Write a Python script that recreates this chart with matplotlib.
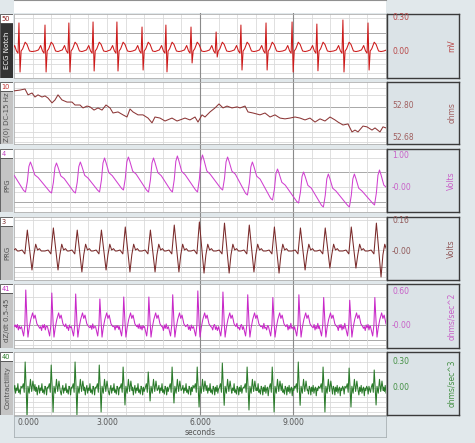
import numpy as np
import matplotlib
matplotlib.use("Agg")
import matplotlib.pyplot as plt
from matplotlib.patches import Rectangle
from matplotlib.lines import Line2D

plt.rcParams['font.family'] = ['DejaVu Sans']

# ---------------- data ----------------
# R-peak times (s), incl. one beat before and after the visible window
beat_t = [-0.61, 0.16, 1.00, 1.77, 2.55, 3.32, 4.13, 4.90, 5.71, 6.52,
          7.32, 8.13, 8.97, 9.77, 10.61, 11.42, 12.23]

# ECG Notch (mV)
ecg_r = [0.24, 0.255, 0.236, 0.255, 0.264, 0.264, 0.218, 0.236, 0.218, 0.173,
         0.236, 0.255, 0.264, 0.245, 0.282, 0.255, 0.25]
ecg_s = [-0.19, -0.191, -0.191, -0.191, -0.182, -0.182, -0.173, -0.19, -0.109,
         -0.055, -0.173, -0.173, -0.191, -0.18, -0.191, -0.173, -0.18]
ecg_off = [-0.30, -0.21, -0.14, -0.08, -0.03, 0.0, 0.035, 0.07, 0.12, 0.20, 0.26, 0.34, 0.42]
ecg_shape = [0.0, 0.01, 0.05, 0.0, -0.02, None, None, 0.0, 0.02, 0.08, 0.06, 0.0, -0.005]

# Z(0) (ohms)
z0_t = [0.000, 0.194, 0.355, 0.452, 0.581, 0.677, 0.774, 0.903, 1.000, 1.097,
        1.226, 1.323, 1.419, 1.548, 1.710, 1.871, 1.968, 2.129, 2.226, 2.355,
        2.452, 2.581, 2.710, 2.839, 2.968, 3.097, 3.194, 3.355, 3.516, 3.645,
        3.742, 3.839, 4.000, 4.161, 4.323, 4.452, 4.548, 4.710, 4.871, 5.097,
        5.258, 5.355, 5.516, 5.677, 5.839, 5.935, 6.065, 6.161, 6.323, 6.484,
        6.613, 6.742, 6.871, 7.032, 7.194, 7.290, 7.452, 7.548, 7.710, 7.935,
        8.097, 8.258, 8.419, 8.581, 8.742, 8.903, 9.065, 9.226, 9.387, 9.548,
        9.710, 9.871, 10.032, 10.194, 10.355, 10.452, 10.613, 10.774, 10.903, 11.000,
        11.097, 11.258, 11.387, 11.548, 11.645, 11.806, 11.903, 12.000]
z0_v = [52.853, 52.856, 52.860, 52.838, 52.845, 52.830, 52.838, 52.830, 52.834, 52.826,
        52.808, 52.819, 52.838, 52.819, 52.811, 52.811, 52.800, 52.800, 52.789, 52.796,
        52.793, 52.781, 52.789, 52.781, 52.800, 52.789, 52.770, 52.774, 52.763, 52.755,
        52.785, 52.774, 52.763, 52.763, 52.751, 52.733, 52.755, 52.751, 52.740, 52.751,
        52.740, 52.744, 52.751, 52.744, 52.755, 52.736, 52.763, 52.755, 52.774, 52.789,
        52.804, 52.789, 52.796, 52.789, 52.793, 52.789, 52.796, 52.774, 52.770, 52.763,
        52.770, 52.755, 52.763, 52.751, 52.748, 52.751, 52.755, 52.751, 52.744, 52.751,
        52.736, 52.748, 52.740, 52.755, 52.744, 52.736, 52.725, 52.729, 52.699, 52.706,
        52.699, 52.721, 52.718, 52.706, 52.714, 52.699, 52.718, 52.714]

# PPG (Volts) per beat
ppg_trough = [-0.094, -0.156, -0.188, -0.188, -0.156, -0.094, -0.156, -0.156, -0.156,
              -0.094, -0.25, -0.406, -0.5, -0.625, -0.625, -0.5625, -0.41]
ppg_peak = [0.844, 0.781, 0.75, 0.781, 0.906, 0.938, 0.906, 0.969, 1.0, 0.938,
            0.781, 0.5625, 0.469, 0.406, 0.406, 0.531, 0.59]
ppg_off = [0.15, 0.21, 0.27, 0.32, 0.37, 0.42, 0.51, 0.62]
ppg_frac = [0.05, 0.0, 0.35, 0.85, 1.0, 0.86, 0.57, 0.48]   # fraction of trough->peak

# PRG (Volts) per beat
prg_peak = [0.12, 0.108, 0.119, 0.108, 0.108, 0.124, 0.108, 0.134, 0.150, 0.144,
            0.134, 0.124, 0.119, 0.119, 0.124, 0.144, 0.12]
prg_trough = [-0.10, -0.098, -0.098, -0.108, -0.098, -0.108, -0.108, -0.108, -0.114,
              -0.114, -0.108, -0.114, -0.098, -0.088, -0.088, -0.134, -0.10]
prg_off = [0.0, 0.10, 0.19, 0.27, 0.42, 0.48, 0.54, 0.60, 0.66, 0.72]
prg_shape = [0.0, 0.005, -0.015, 'P', 'T', -0.02, 0.035, 0.005, 0.012, 0.0]

# dZ/dt (ohms/sec^2) per beat
dz_peak = [0.6, 0.636, 0.582, 0.564, 0.473, 0.509, 0.509, 0.55, 0.62, 0.6,
           0.55, 0.5, 0.55, 0.5, 0.45, 0.5, 0.5]
dz_off = [0.08, 0.15, 0.19, 0.22, 0.26, 0.29, 0.33, 0.38, 0.44, 0.48, 0.52, 0.58, 0.64]
dz_shape = [-0.03, -0.20, 0.0, 'P', 0.05, -0.22, -0.05, 0.10, 0.22, 0.12, 0.18, 0.02, -0.03]
dz_ripple = [0.03, -0.04, 0.06, -0.02, 0.01, -0.06, 0.04, -0.01, 0.05, -0.05, 0.02,
             -0.03, 0.07, -0.02, 0.0, -0.05, 0.03, 0.05, -0.04, 0.01, -0.06, 0.04,
             -0.02, 0.06, -0.03, 0.02, -0.05, 0.03, -0.01]

# Contractility (ohms/sec^3) per beat
con_pos = [0.27, 0.30, 0.265, 0.30, 0.265, 0.242, 0.185, 0.242, 0.242, 0.288,
           0.242, 0.242, 0.30, 0.242, 0.23, 0.208, 0.24]
con_neg = [-0.28, -0.34, -0.277, -0.31, -0.277, -0.196, -0.15, -0.173, -0.219, -0.20,
           -0.254, -0.277, -0.20, -0.277, -0.219, -0.196, -0.22]
con_off = [0.10, 0.14, 0.17, 0.20, 0.235, 0.26, 0.29, 0.33, 0.37, 0.41, 0.45, 0.49]
con_shape = [0.0, 0.05, -0.05, 'P', -0.02, 'N', 0.02, -0.06, 0.10, -0.04, 0.08, -0.03]
con_ripple = [0.02, -0.05, 0.04, 0.0, -0.03, 0.06, -0.02, 0.03, -0.06, 0.01, 0.05,
              -0.04, 0.02, -0.01, 0.07, -0.03, 0.0, -0.05, 0.04, 0.02, -0.06, 0.03,
              -0.02, 0.05, -0.04, 0.01, 0.03, -0.07, 0.02, -0.01, 0.04]

x_ticks = [0, 3, 6, 9]
x_tick_labels = ['0.000', '3.000', '6.000', '9.000']

# ---------------- build traces ----------------
def ecg_trace():
    t, v = [], []
    for r, R, S in zip(beat_t, ecg_r, ecg_s):
        for o, s in zip(ecg_off, ecg_shape):
            t.append(r + o)
            if o == 0.0:
                v.append(R)
            elif s is None:
                v.append(S)
            else:
                v.append(s)
    return t, v

def ppg_trace():
    t, v = [], []
    for r, lo, hi in zip(beat_t, ppg_trough, ppg_peak):
        for o, f in zip(ppg_off, ppg_frac):
            t.append(r + o)
            v.append(lo + f * (hi - lo))
    return t, v

def prg_trace():
    t, v = [], []
    for r, P, T in zip(beat_t, prg_peak, prg_trough):
        for o, s in zip(prg_off, prg_shape):
            t.append(r + o)
            v.append(P if s == 'P' else T if s == 'T' else s)
    return t, v

def rippled(offs, shape, subs, ripple, dt, base):
    pts = []
    w0, w1 = offs[0], offs[-1]
    for i, r in enumerate(beat_t):
        for o, s in zip(offs, shape):
            val = subs[s][i] if isinstance(s, str) else s
            pts.append((r + o, val))
    grid = np.arange(-1.0, 13.0, dt)
    for k, g in enumerate(grid):
        if not any(r + w0 - dt * 0.5 <= g <= r + w1 + dt * 0.5 for r in beat_t):
            pts.append((g, base + ripple[k % len(ripple)]))
    pts.sort()
    return [p[0] for p in pts], [p[1] for p in pts]

ecg_t, ecg_v = ecg_trace()
ppg_t, ppg_v = ppg_trace()
prg_t, prg_v = prg_trace()
dz_t, dz_v = rippled(dz_off, dz_shape, {'P': dz_peak}, dz_ripple, 0.03, -0.04)
con_t, con_v = rippled(con_off, con_shape, {'P': con_pos, 'N': con_neg}, con_ripple, 0.025, -0.02)

# ---------------- layout ----------------
W, H = 475, 443
BG = '#e1e8eb'
fig = plt.figure(figsize=(W / 100, H / 100), dpi=100)
fig.patch.set_facecolor(BG)

def pax(x, y, w, h, **kw):
    return fig.add_axes([x / W, 1 - (y + h) / H, w / W, h / H], **kw)

X0, XW = 14, 372
panels = [
    dict(name='ECG Notch', num='50', numc='#8a1a1a', unit='mV', col='#cc1a1a', lab='#b84848',
         top=14, bot=78, hi=(0.30, '0.30', 18), lo=(0.0, '0.00', 51), t=ecg_t, v=ecg_v,
         light=[0.07, 0.45, 0.61, 0.70, 0.78, 0.92], mid=[0.30], dark=True),
    dict(name='Z(0) DC-15 Hz', num='10', numc='#c03030', unit='ohms', col='#8c3636', lab='#a06060',
         top=82, bot=144, hi=(52.80, '52.80', 105), lo=(52.68, '52.68', 137), t=z0_t, v=z0_v,
         light=[0.10, 0.21, 0.66, 0.81, 0.89, 0.97], mid=[0.40], dark=False),
    dict(name='PPG', num='4', numc='#c040c0', unit='Volts', col='#d040d0', lab='#c860c8',
         top=149, bot=212, hi=(1.00, '1.00', 155), lo=(0.0, '-0.00', 187), t=ppg_t, v=ppg_v,
         light=[0.14, 0.60, 0.68, 0.92], mid=[0.37, 0.84], dark=False),
    dict(name='PRG', num='3', numc='#7a2e2e', unit='Volts', col='#7a2a2a', lab='#905858',
         top=217, bot=280, hi=(0.16, '0.16', 220), lo=(0.0, '-0.00', 251), t=prg_t, v=prg_v,
         light=[0.05, 0.32, 0.52, 0.87, 0.95], mid=[0.79], dark=False),
    dict(name='dZ/dt 0.5-45', num='41', numc='#c030c0', unit='ohms/sec^2', col='#c828c8', lab='#c860c8',
         top=284, bot=348, hi=(0.60, '0.60', 292), lo=(0.0, '-0.00', 325), t=dz_t, v=dz_v,
         light=[0.20, 0.40, 0.95], mid=[0.64, 0.87], dark=False),
    dict(name='Contractility', num='40', numc='#2a7a2a', unit='ohms/sec^3', col='#2a7a2a', lab='#449044',
         top=352, bot=415, hi=(0.30, '0.30', 362), lo=(0.0, '0.00', 388), t=con_t, v=con_v,
         light=[0.16, 0.57, 0.71, 0.79, 0.87, 0.95], mid=[0.31], dark=False),
]

# top white strip
top_ax = pax(X0, 0, XW, 13)
top_ax.set_facecolor('white')
top_ax.set_xticks([]); top_ax.set_yticks([])
for s in top_ax.spines.values():
    s.set_visible(False)
top_ax.spines['top'].set_visible(True)
top_ax.spines['top'].set_color('#909090')

# full-height dark time markers (visible in gaps)
for tm in (6, 9):
    xf = (X0 + XW * tm / 12) / W
    fig.add_artist(Line2D([xf, xf], [1 - 416 / H, 1 - 13 / H], color='#8a8a8a', lw=0.8, zorder=0))

for p in panels:
    h = p['bot'] - p['top']
    vh, _, yh = p['hi']
    vl, _, yl = p['lo']
    k = (vh - vl) / (yl - yh)
    ylim = (vl - (p['bot'] - yl) * k, vh + (yh - p['top']) * k)

    ax = pax(X0, p['top'], XW, h)
    ax.set_facecolor('white')
    ax.set_xlim(0, 12)
    ax.set_ylim(*ylim)
    ax.set_xticks([]); ax.set_yticks([])
    for s in ax.spines.values():
        s.set_color('#b0b0b0'); s.set_linewidth(0.6)
    for f in p['light']:
        ax.axhline(ylim[1] - f * (ylim[1] - ylim[0]), color='#d9d9d9', lw=0.6, zorder=1)
    for f in p['mid']:
        ax.axhline(ylim[1] - f * (ylim[1] - ylim[0]), color='#a8a8a8', lw=0.7, zorder=1)
    for tg in np.arange(0.6, 12, 0.6):
        dark = abs(tg - 6) < 1e-6 or abs(tg - 9) < 1e-6
        ax.axvline(tg, color='#8a8a8a' if dark else '#dadada', lw=0.8 if dark else 0.6, zorder=1)
    ax.plot(p['t'], p['v'], color=p['col'], lw=0.75, zorder=3)

    # left label strip
    la = pax(0, p['top'], 13, h)
    la.set_xlim(0, 1); la.set_ylim(0, h)
    la.axis('off')
    la.add_patch(Rectangle((0, h - 9), 1, 9, facecolor='white', edgecolor='#505050', lw=0.6))
    la.add_patch(Rectangle((0, 0), 1, h - 9, facecolor='#333333' if p['dark'] else '#c4c4c4',
                           edgecolor='#505050', lw=0.6))
    la.text(0.12, h - 4.6, p['num'], color=p['numc'], fontsize=4.8, ha='left', va='center')
    la.text(0.55, (h - 9) / 2, p['name'], color='white' if p['dark'] else '#505050',
            fontsize=5.0, rotation=90, ha='center', va='center')

    # right value box
    ra = pax(387, p['top'], 72, h)
    ra.set_facecolor('#dbe3e7')
    ra.set_xlim(0, 1); ra.set_ylim(*ylim)
    ra.set_xticks([]); ra.set_yticks([])
    for s in ra.spines.values():
        s.set_color('#3a3a3a'); s.set_linewidth(1.0)
    for val, txt, _ in (p['hi'], p['lo']):
        ra.text(0.07, val, txt, color=p['lab'], fontsize=5.5, ha='left', va='center')
    ra.text(0.9, (ylim[0] + ylim[1]) / 2, p['unit'], color=p['lab'], fontsize=5.5,
            rotation=90, ha='center', va='center')

# bottom time axis
ba = pax(X0, 416, XW, 21)
ba.set_facecolor('#dde5e9')
ba.set_xlim(0, 12); ba.set_ylim(0, 1)
ba.set_xticks([]); ba.set_yticks([])
for s in ba.spines.values():
    s.set_color('#a8b0b4'); s.set_linewidth(0.6)
for tk, lab in zip(x_ticks, x_tick_labels):
    ba.text(tk + (0.12 if tk == 0 else 0), 0.68, lab, color='#555555', fontsize=5.5,
            ha='left' if tk == 0 else 'center', va='center')
ba.text(6, 0.22, 'seconds', color='#555555', fontsize=5.5, ha='center', va='center')

fig.savefig('out.png', dpi=100, facecolor=fig.get_facecolor())
